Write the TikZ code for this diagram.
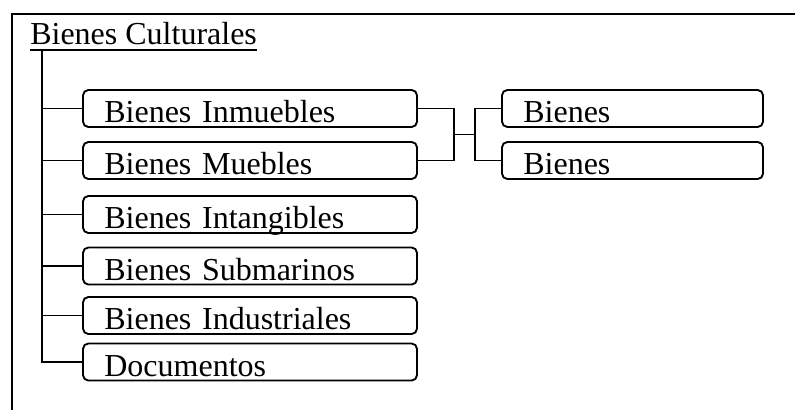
\documentclass[tikz,border=0pt]{standalone}
\usepackage{fontspec}
\setmainfont{Liberation Serif}
\usetikzlibrary{positioning}

\tikzset{
  caja/.style={draw, line width=1.4pt, rounded corners=4pt, inner xsep=16pt, inner ysep=0pt,
    text height=24.5pt, text depth=3.25pt, align=left},
  cajaizq/.style={caja, text width=218.5pt},
  cajader/.style={caja, text width=163.75pt},
  rama/.style={line width=1.4pt}
}

\begin{document}
\begin{tikzpicture}[x=0.75pt,y=-0.75pt,font=\fontsize{24}{28}\selectfont]
  \useasboundingbox (0,0) rectangle (795,410);
  % marco
  \draw[line width=1.8pt] (12,410) |- (795,14);
  % titulo
  \node[anchor=base west,inner sep=0pt,text depth=3.75pt] (raiz) at (30,45) {Bienes Culturales};
  \draw[rama] (raiz.south west) -- (raiz.south east);
  \coordinate (t0) at ([xshift=9pt]raiz.south west);
  %
  \node[cajaizq] (inm) at (250,108.5) {Bienes Inmuebles};
  \node[cajaizq] (mue) at (250,160.5) {Bienes Muebles};
  \node[cajaizq] (intg) at (250,214.5) {Bienes Intangibles};
  \node[cajaizq] (sub) at (250,266) {Bienes Submarinos};
  \node[cajaizq] (ind) at (250,315.5) {Bienes Industriales};
  \node[cajaizq] (doc) at (250,362) {Documentos};
  %
  \node[cajader] (der1) at (632.5,108.5) {Bienes};
  \node[cajader] (der2) at (632.5,160.5) {Bienes};
  % tronco y ramas
  \draw[rama] (t0) |- (doc.west);
  \foreach \n in {inm,mue,intg,sub,ind}
           {\draw[rama] (t0 |- \n.west) -- (\n.west);}
  %
  \coordinate (j1) at (454,134.5);
  \coordinate (j2) at (475,134.5);
  \draw[rama] (inm.east) -| (j1) |- (mue.east);
  \draw[rama] (j1) -- (j2);
  \draw[rama] (der1.west) -| (j2) |- (der2.west);
\end{tikzpicture}
\end{document}
